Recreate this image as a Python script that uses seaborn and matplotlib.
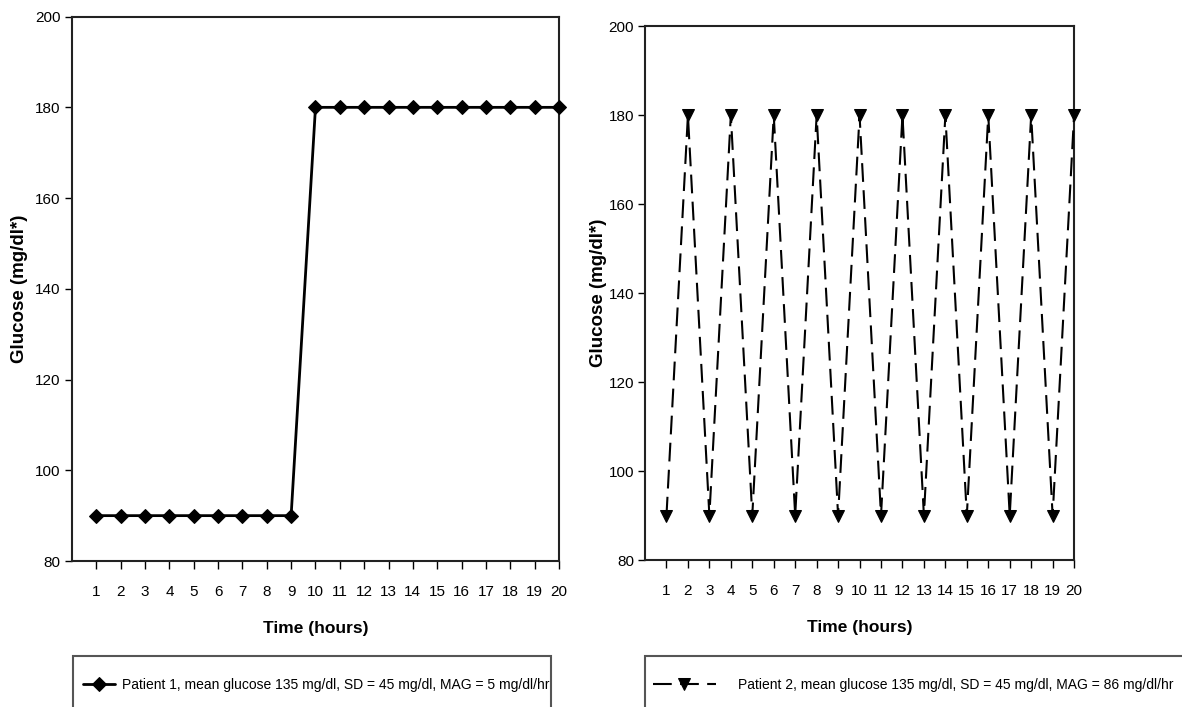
import numpy as np
import pandas as pd
import seaborn as sns
import matplotlib
matplotlib.use("Agg")
import matplotlib.pyplot as plt
from matplotlib.patches import Rectangle

hours = list(range(1, 21))
patient1 = [90] * 9 + [180] * 11
patient2 = [90, 180] * 10
label1 = "Patient 1, mean glucose 135 mg/dl, SD = 45 mg/dl, MAG = 5 mg/dl/hr"
label2 = "Patient 2, mean glucose 135 mg/dl, SD = 45 mg/dl, MAG = 86 mg/dl/hr"
yticks = [80, 100, 120, 140, 160, 180, 200]

sns.set_style("ticks")
plt.rcParams['font.family'] = ['Liberation Sans', 'DejaVu Sans']
plt.rcParams['text.color'] = 'black'
plt.rcParams['axes.labelcolor'] = 'black'
plt.rcParams['xtick.color'] = 'black'
plt.rcParams['ytick.color'] = 'black'

W, H = 1182, 707
fig = plt.figure(figsize=(W / 100, H / 100), dpi=100)
ax1 = fig.add_axes([0.0609, 0.2065, 0.412, 0.770])
ax2 = fig.add_axes([0.5457, 0.2079, 0.363, 0.755])

df = pd.DataFrame({'hour': hours, 'p1': patient1, 'p2': patient2})

sns.lineplot(data=df, x='hour', y='p1', ax=ax1, color='black', linewidth=2,
             marker='D', markersize=7.5, markeredgecolor='black', label=label1,
             clip_on=False, zorder=5)
sns.lineplot(data=df, x='hour', y='p2', ax=ax2, color='black', linewidth=1.5,
             marker='v', markersize=9, markeredgecolor='black', dashes=False,
             label=label2, clip_on=False, zorder=5)
ax2.lines[0].set_dashes((9, 4))

for ax, lpad in [(ax1, 5), (ax2, 1)]:
    ax.set_xlim(0, 20)
    ax.set_ylim(80, 200)
    ax.set_xticks(hours)
    ax.set_yticks(yticks)
    ax.tick_params(axis='x', direction='out', length=6, width=1, pad=11, labelsize=11)
    ax.tick_params(axis='y', direction='out', length=5, width=1, pad=3, labelsize=11)
    for s in ax.spines.values():
        s.set_visible(True)
        s.set_linewidth(1.5)
        s.set_color('#222222')
    ax.set_xlabel("Time (hours)", fontsize=12.5, fontweight='bold', labelpad=16)
    ax.set_ylabel("Glucose (mg/dl*)", fontsize=13.5, fontweight='bold', labelpad=lpad)

# legends: frameless entries plus a box running off the bottom edge
text_y = 1 - 685 / H
ax1.legend(loc='center left', bbox_to_anchor=(83 / W, text_y), bbox_transform=fig.transFigure,
           fontsize=10, frameon=False, borderpad=0, borderaxespad=0,
           handlelength=2.3, handletextpad=0.5)
ax2.legend(loc='center left', bbox_to_anchor=(653 / W, text_y), bbox_transform=fig.transFigure,
           fontsize=10, frameon=False, borderpad=0, borderaxespad=0,
           handlelength=4.5, handletextpad=1.65)

box_y = 1 - 656 / H
for x0, x1 in [(73, 551), (645, 1250)]:
    fig.patches.append(Rectangle((x0 / W, -0.05), (x1 - x0) / W, box_y + 0.05,
                                 transform=fig.transFigure, fill=False,
                                 edgecolor='#555555', linewidth=1.5))

fig.savefig("out.png", dpi=100)
